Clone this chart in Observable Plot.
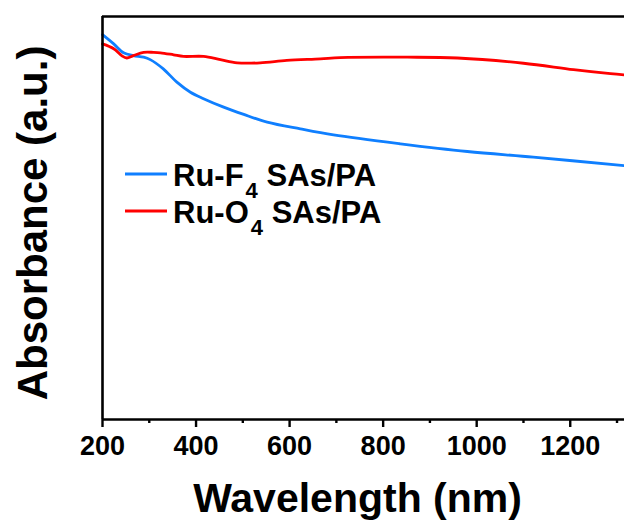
<!DOCTYPE html>
<html>
<head>
<meta charset="utf-8">
<script src="https://cdn.jsdelivr.net/npm/d3@7"></script>
<script src="https://cdn.jsdelivr.net/npm/@observablehq/plot@0.6"></script>
<style>
  html, body { margin: 0; padding: 0; background: white; }
</style>
</head>
<body>
<div id="chart"></div>
<script>
// Wavelength (nm) and absorbance (a.u.)
const blueWavelength = [200, 224, 245, 266, 288, 302, 330, 359, 388, 416, 459, 502, 552, 623, 694, 837, 980, 1121, 1316];
const blueAbsorbance = [0.955, 0.932, 0.910, 0.903, 0.899, 0.893, 0.870, 0.837, 0.812, 0.796, 0.775, 0.757, 0.738, 0.721, 0.706, 0.684, 0.665, 0.651, 0.630];

const redWavelength = [200, 224, 241, 252, 266, 288, 309, 324, 352, 373, 416, 452, 488, 537, 594, 666, 708, 852, 959, 1100, 1207, 1286, 1316];
const redAbsorbance = [0.932, 0.920, 0.903, 0.897, 0.903, 0.911, 0.911, 0.910, 0.905, 0.901, 0.901, 0.893, 0.885, 0.885, 0.891, 0.895, 0.898, 0.899, 0.897, 0.884, 0.868, 0.858, 0.855];

const seriesNames = ["Ru-F", "Ru-O"];
const seriesSub = ["4", "4"];
const seriesSuffix = [" SAs/PA", " SAs/PA"];
const seriesColors = ["#0F7FFF", "#FF0000"];

const majorTicks = [200, 400, 600, 800, 1000, 1200];
const minorTicks = [300, 500, 700, 900, 1100, 1300];
const xLabel = "Wavelength (nm)";
const yLabel = "Absorbance (a.u.)";

const blueData = blueWavelength.map((w, i) => ({w, a: blueAbsorbance[i]}));
const redData = redWavelength.map((w, i) => ({w, a: redAbsorbance[i]}));

const FONT = "'Liberation Sans', Arial, Helvetica, sans-serif";

const chart = Plot.plot({
  width: 624,
  height: 523,
  marginLeft: 102,
  marginRight: 0,
  marginTop: 16,
  marginBottom: 104,
  x: {domain: [200, 1316]},
  y: {domain: [0, 1], axis: null},
  style: {fontFamily: FONT, fontWeight: "bold", background: "white", color: "black"},
  marks: [
    Plot.line(blueData, {x: "w", y: "a", stroke: seriesColors[0], strokeWidth: 2.8, curve: "catmull-rom"}),
    Plot.line(redData, {x: "w", y: "a", stroke: seriesColors[1], strokeWidth: 2.8, curve: "catmull-rom"}),
    Plot.ruleX([200], {stroke: "black", strokeWidth: 2.6}),
    Plot.ruleY([0, 1], {stroke: "black", strokeWidth: 2.6}),
    Plot.axisX({ticks: majorTicks, tickSize: 8, tickPadding: 8, tickFormat: d => String(d), fontSize: 27, fontWeight: "bold", strokeWidth: 2.4, label: null}),
    Plot.axisX({ticks: minorTicks, tickSize: 4, tickFormat: () => "", strokeWidth: 2.4, label: null}),
    Plot.text([xLabel], {frameAnchor: "bottom", textAnchor: "middle", lineAnchor: "middle", dx: -6, dy: 79, fontSize: 41, fontWeight: "bold", fill: "black"}),
    Plot.text([yLabel], {frameAnchor: "left", textAnchor: "middle", lineAnchor: "middle", rotate: -90, dx: -69, dy: 5, fontSize: 42, fontWeight: "bold", fill: "black"})
  ]
});

document.getElementById("chart").appendChild(chart);

// Legend with subscripts
const svg = d3.select(chart);
const legend = svg.append("g").attr("font-family", FONT).attr("font-weight", "bold").attr("text-anchor", "start");
const legendX = 125, legendY0 = 174, legendStep = 37;
seriesNames.forEach((name, i) => {
  const y = legendY0 + i * legendStep;
  legend.append("line")
    .attr("x1", legendX).attr("x2", legendX + 42)
    .attr("y1", y).attr("y2", y)
    .attr("stroke", seriesColors[i]).attr("stroke-width", 2.8);
  const t = legend.append("text")
    .attr("x", legendX + 48).attr("y", y + 12)
    .attr("font-size", 31).attr("fill", "black").attr("text-anchor", "start");
  t.append("tspan").text(name);
  t.append("tspan").attr("font-size", 22).attr("dy", 12).attr("dx", 2).text(seriesSub[i]);
  t.append("tspan").attr("dy", -12).text(seriesSuffix[i]);
});
</script>
</body>
</html>
